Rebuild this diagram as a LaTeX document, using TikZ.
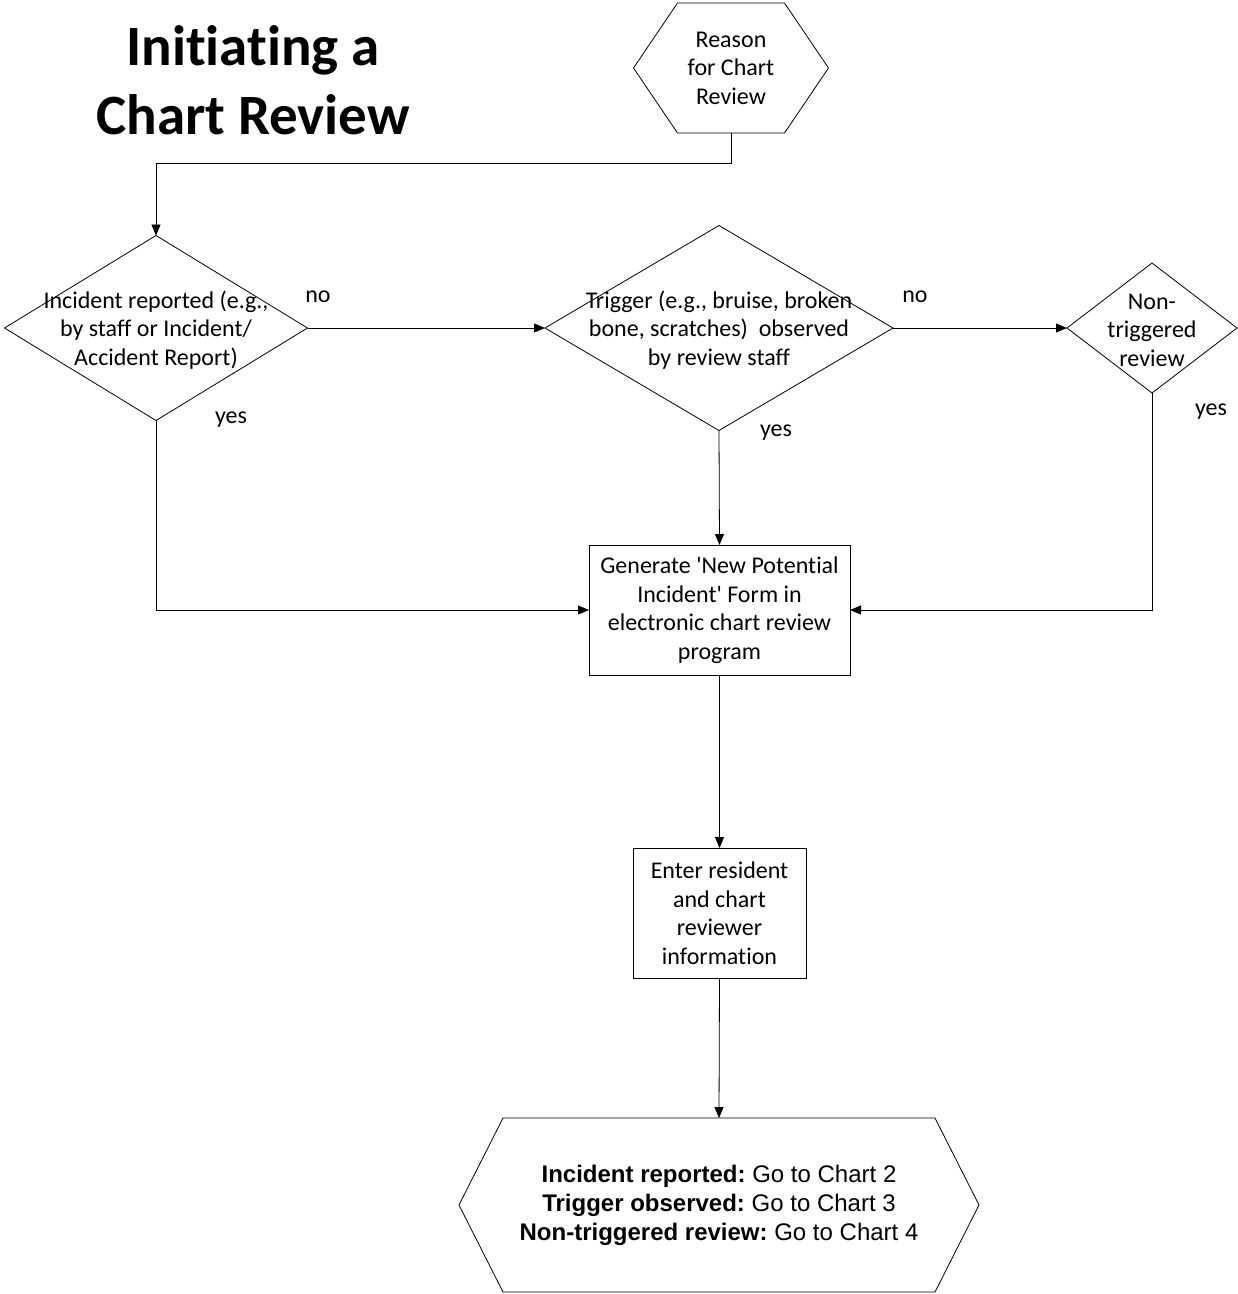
\documentclass[tikz,border=0pt]{standalone}
\usepackage{fontspec}
\setmainfont{Carlito}[Ligatures={NoCommon}]
\newfontfamily\arialf{Liberation Sans}
\usetikzlibrary{shapes.geometric,arrows.meta,calc}
\frenchspacing
\begin{document}
\begin{tikzpicture}[x=1pt,y=-1pt,
  every node/.style={font=\fontsize{24}{28.5}\selectfont, outer sep=0pt},
  ln/.style={line width=0.8pt, black},
  arr/.style={ln, -{Triangle[length=11pt,width=9pt]}},
  dia/.style={diamond, draw, line width=0.8pt, inner sep=0pt},
  txt/.style={align=center, inner sep=0pt},
  boxn/.style={rectangle, draw, line width=0.8pt, align=center, inner sep=0pt},
  hexn/.style={rectangle, align=center, inner sep=0pt},
  lbl/.style={inner sep=0pt}]
\useasboundingbox (0,0) rectangle (1238,1294);

% title
\node[txt, font=\fontsize{57}{69}\selectfont\bfseries] (title) at (253,80) {Initiating a\\Chart Review};

% top hexagon
\node[hexn, minimum width=195pt, minimum height=130pt] (reason) at (731,68) {Reason\\for Chart\\Review};
\draw[ln] (reason.west) -- ([xshift=44pt]reason.north west) -- ([xshift=-44pt]reason.north east)
  -- (reason.east) -- ([xshift=-44pt]reason.south east) -- ([xshift=44pt]reason.south west) -- cycle;

% diamonds
\node[dia, minimum width=303pt, minimum height=185pt] (d1) at (156,328) {};
\node[txt] (d1t) at (156,330) {Incident reported (e.g.,\\by staff or Incident/\\Accident Report)};
\node[dia, minimum width=348pt, minimum height=205pt] (d2) at (719,328) {};
\node[txt] (d2t) at (719,330) {Trigger (e.g., bruise, broken\\bone, scratches)~ observed\\by review staff};
\node[dia, minimum width=170pt, minimum height=130pt] (d3) at (1152,328) {};
\node[txt] (d3t) at (1152,330) {Non-\\triggered\\review};

% boxes
\node[boxn, minimum width=261pt, minimum height=130pt] (box1) at (719.5,610) {Generate \textquotesingle New Potential\\Incident\textquotesingle{} Form in\\electronic chart review\\program};
\node[boxn, minimum width=173pt, minimum height=130pt] (box2) at (719.5,913) {Enter resident\\and chart\\reviewer\\information};

% bottom hexagon
\node[hexn, minimum width=520pt, minimum height=174pt, font=\arialf\fontsize{24}{29}\selectfont] (end) at (719,1205)
  {{\bfseries Incident reported:} Go to Chart 2\\{\bfseries Trigger observed:} Go to Chart 3\\{\bfseries Non-triggered review:} Go to Chart 4};
\draw[ln] (end.west) -- ([xshift=44pt]end.north west) -- ([xshift=-44pt]end.north east)
  -- (end.east) -- ([xshift=-44pt]end.south east) -- ([xshift=44pt]end.south west) -- cycle;

% labels
\node[lbl] (no1) at (318,297) {no};
\node[lbl] (no2) at (915,297) {no};
\node[lbl] (yes1) at (231,420) {yes};
\node[lbl] (yes2) at (776,433) {yes};
\node[lbl] (yes3) at (1211,412) {yes};

% connectors
\coordinate (j1) at (156,163);
\draw[arr] (reason.south) |- (j1) -- (d1.north);
\draw[arr] (d1.east) -- (d2.west);
\draw[arr] (d2.east) -- (d3.west);
\draw[arr] (d1.south) |- (box1.west);
\draw[arr] (d3.south) |- (box1.east);
\draw[arr] (d2.south) -- (box1.north);
\draw[arr] (box1.south) -- (box2.north);
\draw[arr] (box2.south) -- (end.north);
\end{tikzpicture}
\end{document}
